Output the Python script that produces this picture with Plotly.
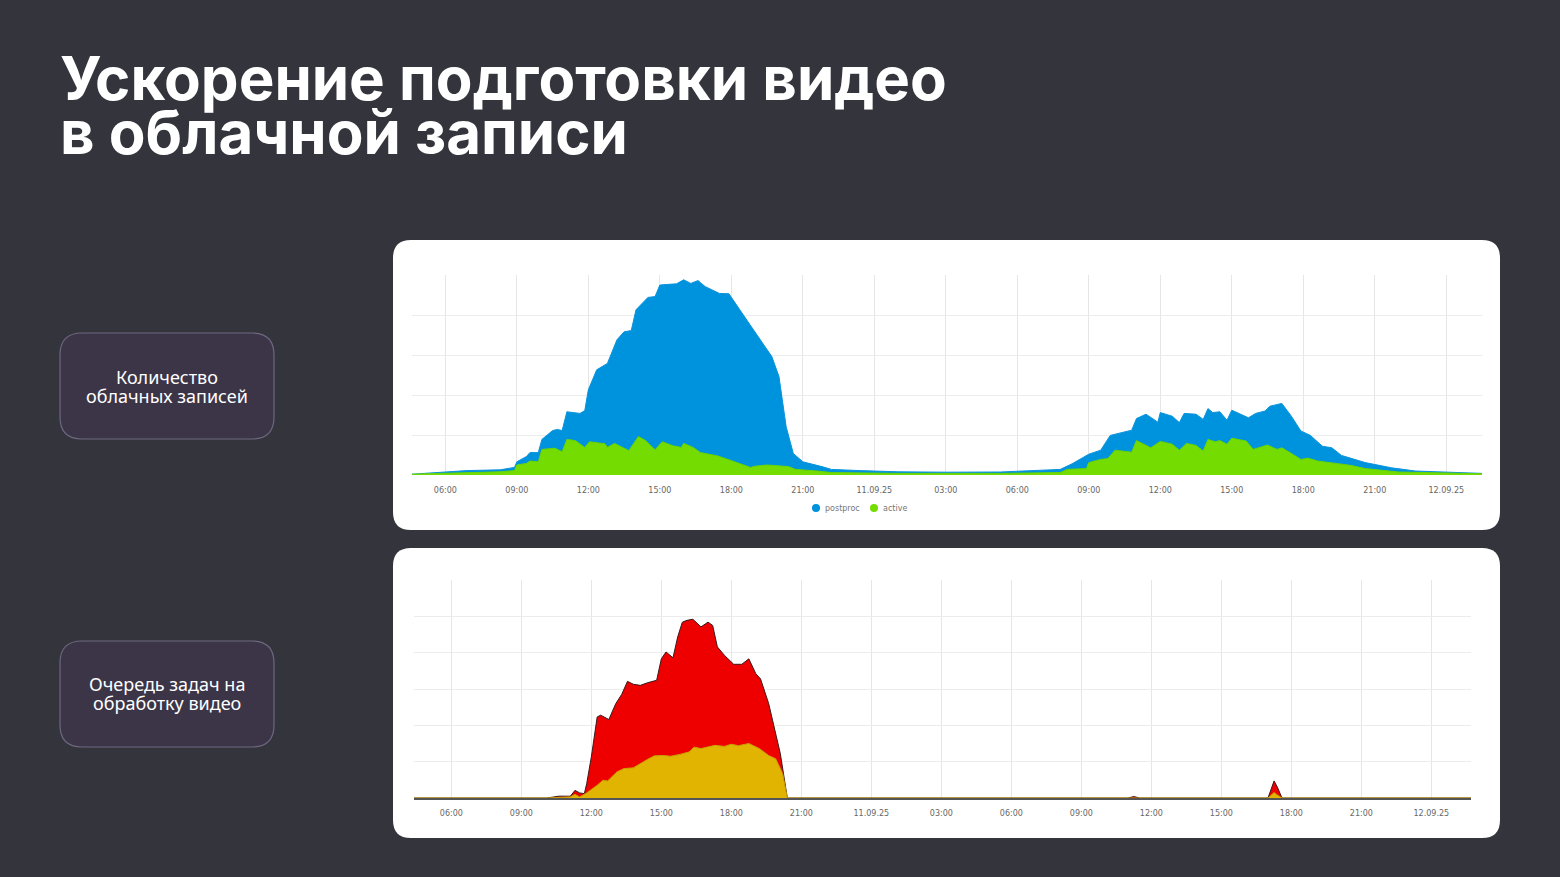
import plotly.graph_objects as go

# hours since 10.09.25 00:00
tick_hours = [6, 9, 12, 15, 18, 21, 24, 27, 30, 33, 36, 39, 42, 45, 48]
tick_labels = ['06:00', '09:00', '12:00', '15:00', '18:00', '21:00', '11.09.25', '03:00',
               '06:00', '09:00', '12:00', '15:00', '18:00', '21:00', '12.09.25']

# top chart: cloud recordings (postproc total, active)
post_h = [4.6, 6, 6.9, 8.3, 8.9, 9.0, 9.4, 9.55, 9.9, 10.05, 10.5, 10.7, 10.9, 11.1, 11.65, 11.85,
          12.0, 12.35, 12.8, 13.2, 13.5, 13.8, 14.0, 14.5, 14.8, 15.0, 15.7, 16.0, 16.3, 16.6, 16.9,
          17.5, 17.9, 18.7, 19.2, 19.7, 20.0, 20.3, 20.6, 21.0, 21.8, 22.2, 23.4, 25.0, 27.0, 29.3,
          31.8, 32.3, 33.0, 33.5, 33.9, 34.8, 35.0, 35.4, 35.9, 36.0, 36.5, 36.8, 37.0, 37.5, 37.8,
          38.0, 38.2, 38.5, 38.8, 39.0, 39.7, 40.0, 40.4, 40.6, 41.1, 41.5, 41.9, 42.3, 42.8, 43.2,
          43.6, 44.6, 45.7, 46.7, 49.5]
post_v = [0.02, 0.08, 0.11, 0.13, 0.19, 0.33, 0.46, 0.56, 0.56, 0.89, 1.11, 1.14, 1.11, 1.58, 1.54, 1.61,
          2.13, 2.63, 2.79, 3.38, 3.58, 3.61, 4.13, 4.44, 4.46, 4.75, 4.78, 4.88, 4.79, 4.86, 4.71,
          4.54, 4.53, 3.83, 3.38, 2.96, 2.46, 1.21, 0.54, 0.33, 0.21, 0.14, 0.11, 0.08, 0.07, 0.075,
          0.14, 0.28, 0.52, 0.62, 0.99, 1.12, 1.41, 1.52, 1.32, 1.56, 1.47, 1.31, 1.54, 1.52, 1.39,
          1.66, 1.56, 1.58, 1.37, 1.62, 1.43, 1.54, 1.6, 1.72, 1.79, 1.47, 1.1, 0.99, 0.72, 0.68,
          0.49, 0.31, 0.18, 0.1, 0.04]
act_h = [4.6, 6, 8.3, 8.9, 9.0, 9.4, 9.55, 9.9, 10.05, 10.6, 10.9, 11.1, 11.45, 11.85, 12.05, 12.7,
         12.8, 13.1, 13.7, 14.1, 14.4, 14.8, 15.1, 15.55, 15.9, 16.0, 16.4, 16.7, 17.0, 17.4, 17.9,
         18.8, 19.0, 19.5, 20.4, 20.7, 21.6, 22.2, 25.0, 29.3, 31.8, 32.1, 32.9, 33.0, 33.5, 33.8,
         34.1, 34.8, 35.0, 35.6, 36.0, 36.5, 36.8, 37.1, 37.5, 37.8, 38.0, 38.3, 38.5, 38.8, 39.0,
         39.6, 39.9, 40.5, 40.9, 41.1, 41.5, 41.9, 42.2, 42.6, 44.0, 44.6, 46.0, 49.5]
act_v = [0.02, 0.04, 0.08, 0.11, 0.25, 0.29, 0.35, 0.33, 0.64, 0.67, 0.58, 0.89, 0.86, 0.69, 0.83, 0.78,
         0.69, 0.79, 0.61, 0.96, 0.86, 0.63, 0.83, 0.73, 0.69, 0.79, 0.69, 0.56, 0.53, 0.48, 0.38,
         0.19, 0.22, 0.25, 0.21, 0.14, 0.1, 0.06, 0.04, 0.04, 0.06, 0.14, 0.16, 0.31, 0.39, 0.41,
         0.62, 0.57, 0.86, 0.68, 0.84, 0.77, 0.62, 0.79, 0.74, 0.6, 0.89, 0.83, 0.86, 0.77, 0.92,
         0.85, 0.64, 0.75, 0.64, 0.68, 0.54, 0.39, 0.42, 0.35, 0.24, 0.16, 0.075, 0.03]

# bottom chart: video processing queue (total, yellow part)
queue_h = [4.4, 10.1, 10.6, 11.1, 11.3, 11.5, 11.7, 11.8, 12.0, 12.25, 12.4, 12.75, 13.05, 13.3, 13.55,
           13.8, 14.1, 14.4, 14.8, 15.0, 15.2, 15.5, 15.7, 15.9, 16.1, 16.35, 16.7, 17.0, 17.2, 17.4,
           17.7, 18.1, 18.45, 18.75, 19.05, 19.25, 19.6, 19.9, 20.1, 20.4, 35.0, 35.25, 35.5, 41.0,
           41.15, 41.26, 41.4, 41.6, 49.7]
queue_v = [0, 0, 0.05, 0.05, 0.21, 0.14, 0.12, 0.39, 1.13, 2.23, 2.28, 2.16, 2.6, 2.85, 3.21,
           3.13, 3.1, 3.17, 3.24, 3.83, 4.02, 3.86, 4.43, 4.84, 4.89, 4.92, 4.71, 4.84, 4.75, 4.16,
           3.93, 3.68, 3.68, 3.83, 3.42, 3.28, 2.6, 1.77, 1.22, 0, 0, 0.04, 0, 0,
           0.3, 0.47, 0.3, 0, 0]
part_h = [4.4, 10.1, 11.1, 11.3, 11.5, 11.8, 12.25, 12.5, 12.7, 13.1, 13.4, 13.8, 14.4, 14.7, 15.1,
          15.4, 15.8, 16.2, 16.4, 16.7, 17.3, 17.7, 18.0, 18.3, 18.75, 19.2, 19.6, 19.9, 20.2, 20.4,
          41.0, 41.15, 41.26, 41.4, 41.6, 49.7]
part_v = [0, 0, 0.03, 0.1, 0.03, 0.14, 0.35, 0.49, 0.47, 0.72, 0.81, 0.83, 1.06, 1.16, 1.17,
          1.15, 1.2, 1.27, 1.4, 1.36, 1.45, 1.42, 1.48, 1.44, 1.5, 1.36, 1.17, 1.08, 0.67, 0,
          0, 0.08, 0.15, 0.08, 0, 0]

W, H = 1560, 877
BG = '#34343c'


def px_x(v):
    return v / W


def px_y(v):
    return 1 - v / H


def rounded(x0, y0, x1, y1, r):
    # rounded rectangle in pixel coords -> paper path
    X = lambda v: px_x(v)
    Y = lambda v: px_y(v)
    rx, ry = r / W, r / H
    return (f"M {X(x0)+rx},{Y(y0)} L {X(x1)-rx},{Y(y0)} Q {X(x1)},{Y(y0)} {X(x1)},{Y(y0)-ry} "
            f"L {X(x1)},{Y(y1)+ry} Q {X(x1)},{Y(y1)} {X(x1)-rx},{Y(y1)} "
            f"L {X(x0)+rx},{Y(y1)} Q {X(x0)},{Y(y1)} {X(x0)},{Y(y1)+ry} "
            f"L {X(x0)},{Y(y0)-ry} Q {X(x0)},{Y(y0)} {X(x0)+rx},{Y(y0)} Z")


fig = go.Figure()

fig.add_trace(go.Scatter(x=post_h, y=post_v, fill='tozeroy', mode='lines',
                         line=dict(color='#0a93dc', width=1), fillcolor='#0093dd',
                         showlegend=False, xaxis='x', yaxis='y'))
fig.add_trace(go.Scatter(x=act_h, y=act_v, fill='tozeroy', mode='lines',
                         line=dict(color='#6cd400', width=1), fillcolor='#74dc00',
                         showlegend=False, xaxis='x', yaxis='y'))
fig.add_trace(go.Scatter(x=queue_h, y=queue_v, fill='tozeroy', mode='lines',
                         line=dict(color='#3a1a1a', width=1), fillcolor='#ee0000',
                         showlegend=False, xaxis='x2', yaxis='y2'))
fig.add_trace(go.Scatter(x=part_h, y=part_v, fill='tozeroy', mode='lines',
                         line=dict(color='#c9a000', width=1), fillcolor='#e0b400',
                         showlegend=False, xaxis='x2', yaxis='y2'))

axis_common = dict(tickvals=tick_hours, ticktext=tick_labels, showgrid=True,
                   gridcolor='#e6e6e6', gridwidth=1, zeroline=False,
                   tickfont=dict(family='DejaVu Sans', size=8, color='#666'), ticks='')
fig.update_layout(
    width=W, height=H, margin=dict(l=0, r=0, t=0, b=0),
    paper_bgcolor=BG, plot_bgcolor='rgba(0,0,0,0)',
    xaxis=dict(domain=[412 / W, 1482 / W], range=[4.6, 49.5], anchor='y',
               ticklabelstandoff=9, **axis_common),
    yaxis=dict(domain=[px_y(475), px_y(275)], range=[0, 5], dtick=1, showticklabels=False,
               gridcolor='#ececec', zeroline=False),
    xaxis2=dict(domain=[414 / W, 1471 / W], range=[4.4, 49.7], anchor='y2', showline=True,
                linecolor='#555', linewidth=1.5, ticklabelstandoff=7, **axis_common),
    yaxis2=dict(domain=[px_y(798), px_y(580)], range=[0, 6], dtick=1, showticklabels=False,
                gridcolor='#ececec', zeroline=False),
    showlegend=False,
)

shapes = [
    dict(type='path', xref='paper', yref='paper', path=rounded(393, 240, 1500, 530, 18),
         fillcolor='white', line=dict(width=0), layer='below'),
    dict(type='path', xref='paper', yref='paper', path=rounded(393, 548, 1500, 838, 18),
         fillcolor='white', line=dict(width=0), layer='below'),
    dict(type='path', xref='paper', yref='paper', path=rounded(60, 333, 274, 439, 22),
         fillcolor='#3c3548', line=dict(color='#6e6880', width=1.2), layer='below'),
    dict(type='path', xref='paper', yref='paper', path=rounded(60, 641, 274, 747, 22),
         fillcolor='#3c3548', line=dict(color='#6e6880', width=1.2), layer='below'),
]
# legend markers
for cx, c in [(816, '#0093dd'), (874, '#74dc00')]:
    shapes.append(dict(type='circle', xref='paper', yref='paper',
                       x0=px_x(cx - 4), x1=px_x(cx + 4), y0=px_y(512), y1=px_y(504),
                       fillcolor=c, line=dict(width=0)))
fig.update_layout(shapes=shapes)

for name, lx in [('postproc', 823), ('active', 881)]:
    fig.add_annotation(text=name, xref='paper', yref='paper', x=px_x(lx), y=px_y(508),
                       xanchor='left', yanchor='middle', showarrow=False,
                       font=dict(family='DejaVu Sans', size=8, color='#777'))

for line, cy in [('Ускорение подготовки видео', 78), ('в облачной записи', 132)]:
    fig.add_annotation(text='<b>' + line + '</b>', xref='paper', yref='paper',
                       x=px_x(58), y=px_y(cy), xanchor='left', yanchor='middle',
                       showarrow=False, font=dict(family='Inter', size=60, color='white'))

labels = [('Количество', 377), ('облачных записей', 396),
          ('Очередь задач на', 684), ('обработку видео', 703)]
for label, cy in labels:
    fig.add_annotation(text=label, xref='paper', yref='paper', x=px_x(167), y=px_y(cy),
                       xanchor='center', yanchor='middle', showarrow=False,
                       font=dict(family='Noto Sans', size=18, color='white'))

fig.write_html("out.html", config={'displayModeBar': False},
               post_script="document.body.style.margin='0';")
